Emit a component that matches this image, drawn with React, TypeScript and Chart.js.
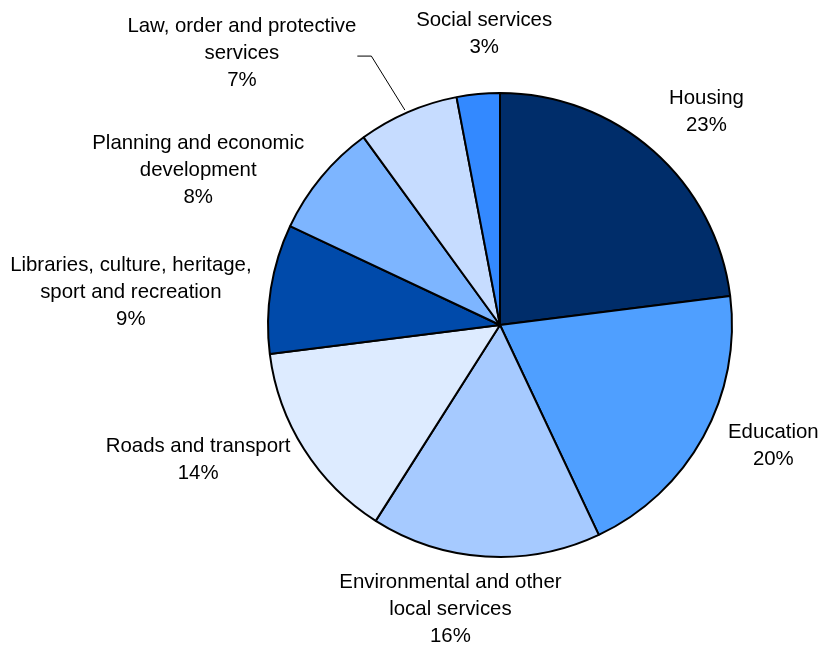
import React, { useEffect, useRef } from "react";
import { Chart, registerables } from "chart.js";

Chart.register(...registerables);

const categories: string[] = [
  "Housing",
  "Education",
  "Environmental and other\nlocal services",
  "Roads and transport",
  "Libraries, culture, heritage,\nsport and recreation",
  "Planning and economic\ndevelopment",
  "Law, order and protective\nservices",
  "Social services",
];
const shares: number[] = [23, 20, 16, 14, 9, 8, 7, 3];
const sliceColors: string[] = [
  "#002D6A",
  "#4F9FFF",
  "#A6CAFF",
  "#DDEBFF",
  "#004AAA",
  "#7DB5FF",
  "#C6DCFF",
  "#3389FF",
];
// label block centre offset from the slice's outer mid-point (px)
const labelNudges: [number, number][] = [
  [53, -39],
  [70, 9],
  [-35, 53],
  [-106, 11],
  [-140, 4],
  [-123, -7],
  [-166, -59],
  [6, -60],
];
const leaderLabels: number[] = [6];

const LINE_H = 27;
const FONT = "20.4px 'Liberation Sans', Arial, sans-serif";

const labelPlugin = {
  id: "outerLabels",
  afterDatasetsDraw(chart: any) {
    const ctx: CanvasRenderingContext2D = chart.ctx;
    const meta = chart.getDatasetMeta(0);
    ctx.save();
    ctx.font = FONT;
    ctx.fillStyle = "#000";
    ctx.textAlign = "center";
    ctx.textBaseline = "middle";
    meta.data.forEach((arc: any, i: number) => {
      const p = arc.getProps(["x", "y", "startAngle", "endAngle", "outerRadius"], true);
      const mid = (p.startAngle + p.endAngle) / 2;
      const ex = p.x + Math.cos(mid) * p.outerRadius;
      const ey = p.y + Math.sin(mid) * p.outerRadius;
      const lines = categories[i].split("\n").concat([`${shares[i]}%`]);
      const cx = ex + labelNudges[i][0];
      const cy = ey + labelNudges[i][1];
      const y0 = cy - ((lines.length - 1) * LINE_H) / 2;
      let maxW = 0;
      lines.forEach((ln, k) => {
        ctx.fillText(ln, cx, y0 + k * LINE_H);
        maxW = Math.max(maxW, ctx.measureText(ln).width);
      });
      if (leaderLabels.includes(i)) {
        const lx = cx + maxW / 2 + 1;
        const ly = cy + 3;
        ctx.beginPath();
        ctx.strokeStyle = "#000";
        ctx.lineWidth = 1;
        ctx.moveTo(lx, ly);
        ctx.lineTo(lx + 14, ly);
        ctx.lineTo(ex - 3, ey - 2);
        ctx.stroke();
      }
    });
    ctx.restore();
  },
};

export default function App() {
  const ref = useRef<HTMLCanvasElement | null>(null);
  useEffect(() => {
    if (!ref.current) return;
    const chart = new Chart(ref.current, {
      type: "pie",
      data: {
        labels: categories,
        datasets: [
          {
            data: shares,
            backgroundColor: sliceColors,
            borderColor: "#000",
            borderWidth: 2,
            hoverOffset: 0,
          },
        ],
      },
      options: {
        responsive: false,
        animation: false,
        layout: { padding: { left: 267, right: 89, top: 92, bottom: 90 } },
        plugins: {
          legend: { display: false },
          tooltip: { enabled: false },
        },
      },
      plugins: [labelPlugin],
    });
    return () => chart.destroy();
  }, []);
  return (
    <div style={{ position: "fixed", left: 0, top: 0, width: 822, height: 648, background: "#fff" }}>
      <canvas ref={ref} width={822} height={648} style={{ width: 822, height: 648 }} />
    </div>
  );
}
